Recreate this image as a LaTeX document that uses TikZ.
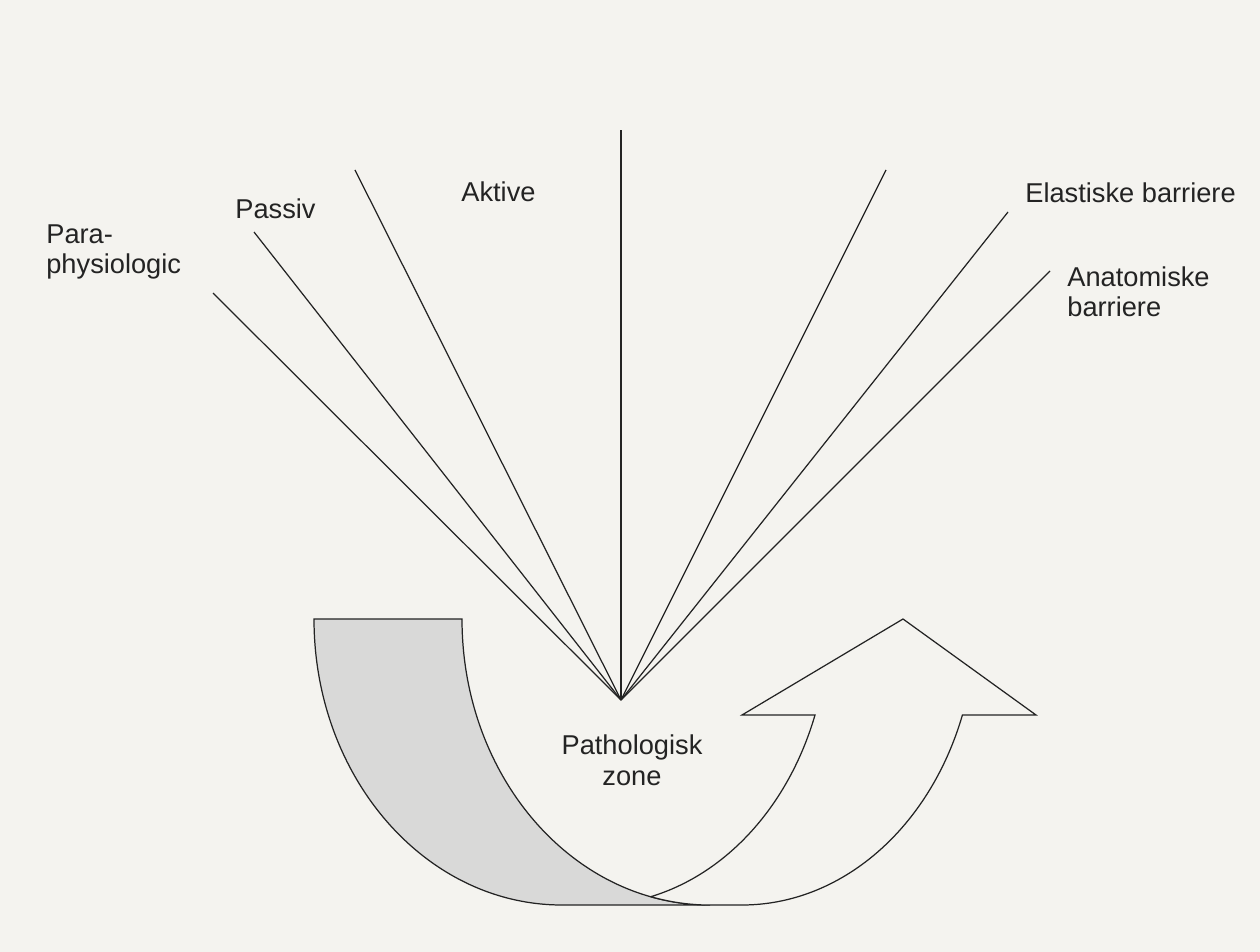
\documentclass[tikz,border=0pt]{standalone}
\usepackage{fontspec}
\setmainfont{Liberation Sans}
\definecolor{paper}{RGB}{244,243,239}
\definecolor{bandgray}{RGB}{217,217,216}
\definecolor{ink}{RGB}{35,35,35}

\begin{document}
\begin{tikzpicture}[
		x=0.02cm, y=-0.02cm,
		every node/.style={text=ink,inner sep=0pt,font=\fontsize{15.5}{17.6}\selectfont},
		lbl/.style={align=left,anchor=base west},
		ray/.style={draw=ink,line width=0.7pt},
		band/.style={fill=bandgray,draw=ink,line width=0.7pt,line join=miter},
		front/.style={fill=paper,draw=ink,line width=0.7pt,line join=miter}
	]
	\fill [paper] (0,0) rectangle (1260,952) ;

	% curved arrow, back part first
	\filldraw [band] (314,619) arc [start angle=180,end angle=90,x radius=248,y radius=286]
		-- (710,905) arc [start angle=90,end angle=180,x radius=248,y radius=286] -- cycle ;
	\filldraw [front] (710,905) -- (742,905)
		arc [start angle=90,end angle=19.6,x radius=234,y radius=286]
		-- (1036,715) -- (903,619) -- (742,715) -- (815,715)
		arc [start angle=19.6,end angle=76.1,x radius=234,y radius=286]
		arc [start angle=103.9,end angle=90,x radius=248,y radius=286] -- cycle ;

	\coordinate (fan) at (621,700) ;
	\coordinate (r1)  at (213,293) ;
	\coordinate (r2)  at (254,232) ;
	\coordinate (r3)  at (355,170) ;
	\coordinate (r4)  at (621,130) ;
	\coordinate (r5)  at (886,170) ;
	\coordinate (r6)  at (1008,212) ;
	\coordinate (r7)  at (1050,271) ;

	\draw [ray] (fan) -- (r1) ;
	\draw [ray] (fan) -- (r2) ;
	\draw [ray] (fan) -- (r3) ;
	\draw [ray] (fan) -- (r4) ;
	\draw [ray] (fan) -- (r5) ;
	\draw [ray] (fan) -- (r6) ;
	\draw [ray] (fan) -- (r7) ;

	% multi-line nodes sit on the baseline of their last line
	\node [lbl] (para)     at (46,274)   {Para-\\physiologic} ;
	\node [lbl] (passiv)   at (235,219)  {Passiv} ;
	\node [lbl] (aktive)   at (461,202)  {Aktive} ;
	\node [lbl] (elastisk) at (1025,203) {Elastiske barriere} ;
	\node [lbl] (anatom)   at (1067,317) {Anatomiske\\barriere} ;
	\node [align=center,anchor=base] (patzone) at (632,785) {Pathologisk\\zone} ;
\end{tikzpicture}
\end{document}
